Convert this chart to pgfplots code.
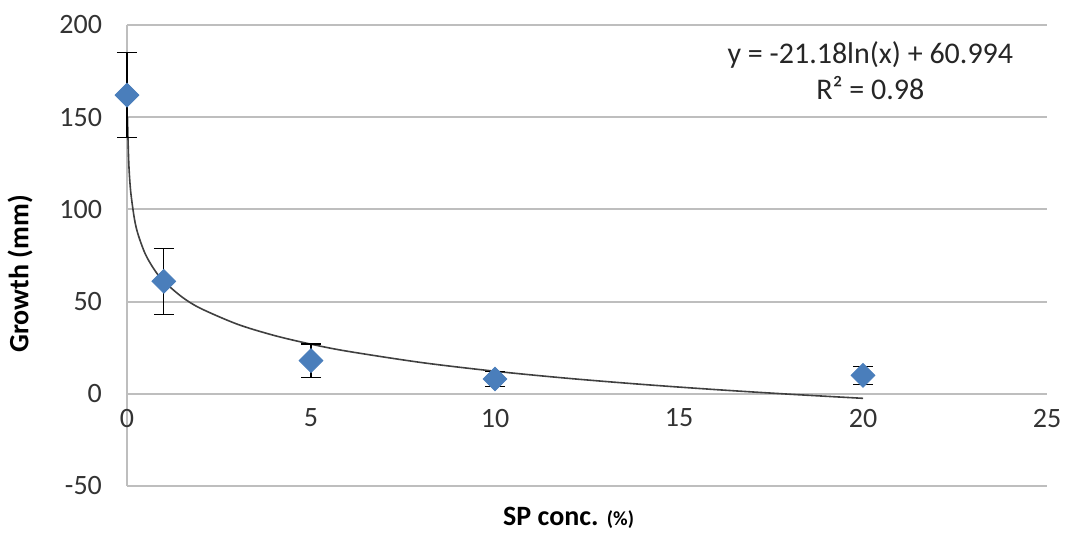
\documentclass[border=0pt]{standalone}
\usepackage{pgfplots}
\pgfplotsset{compat=1.18}
\usepackage{fontspec}
\setmainfont{Carlito}
\definecolor{ptblue}{RGB}{74,126,187}
\definecolor{gridgray}{RGB}{190,190,190}
\begin{document}
\begin{tikzpicture}
\begin{axis}[
  scale only axis, width=460pt, height=230.5pt,
  xmin=0, xmax=25, ymin=-50, ymax=200,
  xtick={0,5,10,15,20,25}, ytick={-50,0,50,100,150,200},
  axis x line*=middle, axis y line*=left,
  hide obscured x ticks=false, hide obscured y ticks=false,
  axis line style={gridgray, line width=1pt},
  ymajorgrids, grid style={gridgray, line width=1pt},
  major tick length=0pt,
  /pgf/number format/assume math mode=true,
  tick label style={font=\fontsize{14}{16}\selectfont, text=black!80},
  yticklabel style={xshift=-9pt},
  xticklabel style={yshift=-4pt},
  xlabel={\textbf{SP conc. {\fontsize{10}{12}\selectfont(\%)}}},
  xlabel style={at={(axis description cs:0.48,0)}, anchor=north, yshift=-7pt, font=\fontsize{14}{16}\selectfont},
  ylabel={\textbf{Growth (mm)}},
  ylabel style={at={([xshift=-53.5pt]axis description cs:0,0.46)}, anchor=center, font=\fontsize{14}{16}\selectfont},
  clip=false,
]
% trend line y = -21.18 ln(x) + 60.994
\addplot[color=black!75, line width=0.8pt, smooth] coordinates {
 (0.015,149.94) (0.02,143.85) (0.05,124.44) (0.1,109.76) (0.2,95.08) (0.3,86.49) (0.5,75.67)
 (0.75,67.09) (1,60.99) (1.5,52.41) (2,46.31) (3,37.73) (4,31.63) (5,26.91)
 (6,23.04) (8,16.95) (10,12.23) (12,8.36) (14,5.10) (16,2.27) (18,-0.22) (20,-2.46)
};
\addplot[only marks, mark=square*, mark size=4.2pt,
  mark options={rotate=45, fill=ptblue, draw=ptblue},
  error bars/.cd, y dir=both, y explicit,
  error bar style={black, line width=0.6pt},
  error mark options={rotate=90, mark size=5pt, black, line width=0.6pt}]
coordinates {
 (0,162) +- (0,23)
 (1,61) +- (0,18)
 (5,18) +- (0,9)
 (10,8) +- (0,4)
 (20,10) +- (0,5)
};
\node[align=center, font=\fontsize{15}{18}\selectfont, text=black!85] at (axis cs:20.2,175.5)
 {y = -21.18ln(x) + 60.994\\R² = 0.98};
\end{axis}
\pgfresetboundingbox
\path[use as bounding box] ([shift={(-63.5pt,-23.5pt)}]current axis.south west) rectangle ([shift={(13pt,12.5pt)}]current axis.north east);
\end{tikzpicture}
\end{document}
